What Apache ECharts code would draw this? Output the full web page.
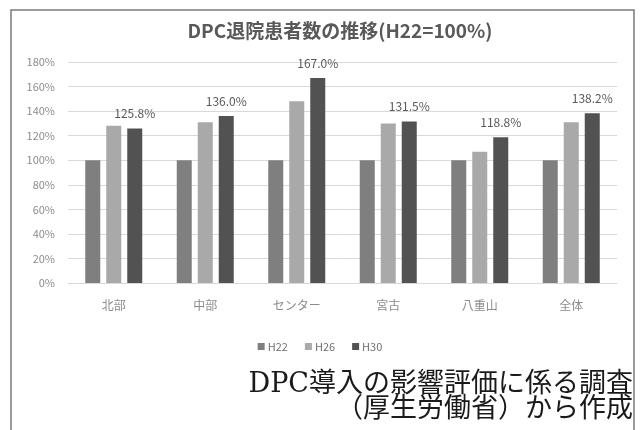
<!DOCTYPE html>
<html>
<head>
<meta charset="utf-8">
<script src="https://cdn.jsdelivr.net/npm/echarts@6/dist/echarts.min.js"></script>
<style>
  html, body { margin: 0; padding: 0; background: #ffffff; }
  #chart { width: 640px; height: 430px; }
</style>
</head>
<body>
<div id="chart"></div>
<script>
// Regions (x axis)
const regions = ['北部', '中部', 'センター', '宮古', '八重山', '全体'];
// Discharged DPC patients, index with H22 = 100%
const h22 = [100, 100, 100, 100, 100, 100];
const h26 = [128.0, 131.0, 148.0, 130.0, 107.0, 131.0];
const h30 = [125.8, 136.0, 167.0, 131.5, 118.8, 138.2];
const seriesNames = ['H22', 'H26', 'H30'];
const yTicks = { min: 0, max: 180, step: 20 };

const cjk = '"Noto Sans CJK JP", "Noto Sans", sans-serif';
const serifCjk = '"DejaVu Serif", "Liberation Serif", "Noto Sans CJK JP", serif';

const chart = echarts.init(document.getElementById('chart'), null, { renderer: 'canvas' });

function barSeries(name, data, color, withLabel) {
  return {
    name: name,
    type: 'bar',
    data: data,
    barWidth: 15,
    barGap: '40%',
    itemStyle: { color: color },
    label: withLabel ? {
      show: true,
      position: 'top',
      distance: 9,
      color: '#595959',
      fontSize: 12,
      fontFamily: cjk,
      formatter: p => p.value.toFixed(1) + '%'
    } : { show: false }
  };
}

chart.setOption({
  backgroundColor: '#ffffff',
  animation: false,
  title: {
    text: 'DPC退院患者数の推移(H22=100%)',
    left: 335,
    top: 16,
    textAlign: 'center',
    textStyle: { fontSize: 19, fontWeight: 'bold', color: '#595959', fontFamily: cjk }
  },
  legend: {
    data: seriesNames,
    left: 'center',
    top: 336,
    itemWidth: 7,
    itemHeight: 7,
    itemGap: 17,
    icon: 'rect',
    textStyle: { fontSize: 11, color: '#6f6f6f', fontFamily: cjk, padding: [0, 0, 0, -2] }
  },
  grid: { left: 68, right: 23, top: 62, bottom: 147 },
  xAxis: {
    type: 'category',
    data: regions,
    axisTick: { show: false },
    axisLine: { lineStyle: { color: '#d9d9d9' } },
    axisLabel: { color: '#8c8c8c', fontSize: 12, margin: 16, fontFamily: cjk }
  },
  yAxis: {
    type: 'value',
    min: yTicks.min,
    max: yTicks.max,
    interval: yTicks.step,
    axisLine: { show: false },
    axisTick: { show: false },
    splitLine: { lineStyle: { color: '#d9d9d9', width: 1 } },
    axisLabel: { color: '#8c8c8c', fontSize: 11, margin: 13, fontFamily: cjk, formatter: v => v + '%' }
  },
  series: [
    barSeries(seriesNames[0], h22, '#7f7f7f', false),
    barSeries(seriesNames[1], h26, '#a9a9a9', false),
    barSeries(seriesNames[2], h30, '#525252', true)
  ],
  graphic: [
    {
      type: 'rect',
      shape: { x: 11, y: 10, width: 623, height: 440 },
      style: { fill: 'none', stroke: '#7a7a7a', lineWidth: 1.5 },
      silent: true
    },
    {
      type: 'text',
      right: 7,
      top: 371,
      style: {
        text: 'DPC導入の影響評価に係る調査',
        font: '27px ' + serifCjk,
        fill: '#1a1a1a',
        textAlign: 'right'
      }
    },
    {
      type: 'text',
      right: 7,
      top: 396,
      style: {
        text: '（厚生労働省）から作成',
        font: '27px ' + serifCjk,
        fill: '#1a1a1a',
        textAlign: 'right'
      }
    }
  ]
});
</script>
</body>
</html>
